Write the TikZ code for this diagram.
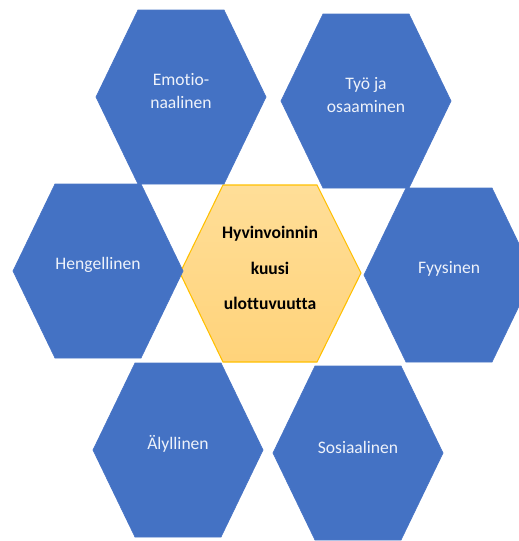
\documentclass[tikz,border=0pt]{standalone}
\usepackage{fontspec}
\setmainfont{Carlito}[Ligatures=CommonOff]
\usepackage{tikz}

\definecolor{hexblue}{HTML}{4472C4}
\definecolor{hexedge}{HTML}{4A76C6}
\definecolor{hextext}{HTML}{EEF2FA}
\definecolor{coretop}{HTML}{FFDE98}
\definecolor{corebot}{HTML}{FFD37A}
\definecolor{coreedge}{HTML}{FFC000}

% hexagon with its label: name, x, y, text
\newcommand{\dimhex}[4]{%
	\path[dimfill] (#2,#3) ++(-85,0) -- ++(42,-87) -- ++(86,0) -- ++(42,87) -- ++(-42,87) -- ++(-86,0) -- cycle;
	\node[dimlabel] (#1) at (#2,#3-6) {#4};
}

\tikzset{
	dimfill/.style={fill=hexblue,draw=hexedge,line width=0.4pt},
	dimlabel/.style={text=hextext,align=center,font=\fontsize{10}{13}\selectfont},
	corefill/.style={top color=coretop,bottom color=corebot,draw=coreedge,line width=0.6pt},
	corelabel/.style={text=black,align=center,font=\bfseries\fontsize{10}{20}\selectfont}
}

\begin{document}
\begin{tikzpicture}[x=0.02cm,y=-0.02cm]
	
	\clip (0,0) rectangle (519,541);
	
	% Draw the centre
	\path[corefill] (270,273) ++(-90,0) -- ++(43,-88) -- ++(94,0) -- ++(44,88) -- ++(-44,89) -- ++(-94,0) -- cycle;
	\node[corelabel] (core) at (270,268) {Hyvinvoinnin\\kuusi\\ulottuvuutta};
	
	% Draw the six dimensions
	\dimhex{emo}{181}{97}{Emotio-\\naalinen}
	\dimhex{tyo}{366}{101}{Työ ja\\osaaminen}
	\dimhex{hen}{98}{271}{Hengellinen}
	\dimhex{fyy}{449}{275}{Fyysinen}
	\dimhex{aly}{178}{450}{Älyllinen}
	\dimhex{sos}{358}{453}{Sosiaalinen}
	
\end{tikzpicture}
\end{document}
